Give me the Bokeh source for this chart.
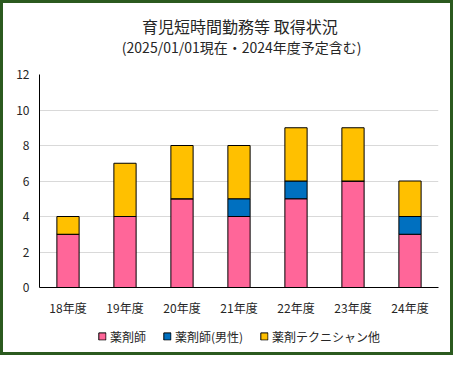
from bokeh.plotting import figure
from bokeh.models import ColumnDataSource, Label, Legend, FixedTicker
from bokeh.layouts import column
from bokeh.embed import file_html
from bokeh.resources import INLINE

years = ["18年度", "19年度", "20年度", "21年度", "22年度", "23年度", "24年度"]
pharmacist = [3, 4, 5, 4, 5, 6, 3]
pharmacist_male = [0, 0, 0, 1, 1, 0, 1]
technician = [1, 3, 3, 3, 3, 3, 2]
series = ["薬剤師", "薬剤師(男性)", "薬剤テクニシャン他"]
colors = ["#FF6699", "#0070C0", "#FFC000"]
y_ticks = [0, 2, 4, 6, 8, 10, 12]
title_text = "育児短時間勤務等 取得状況"
subtitle_text = "(2025/01/01現在・2024年度予定含む)"

FONT = "Noto Sans CJK JP"
TEXT_COLOR = "#262626"
W = 447

source = ColumnDataSource(data={
    "year": years,
    "薬剤師": pharmacist,
    "薬剤師(男性)": pharmacist_male,
    "薬剤テクニシャン他": technician,
})

# title strip
TH = 63
pt = figure(x_range=(0, W), y_range=(0, TH), width=W, height=TH,
            output_backend="svg", toolbar_location=None, title=None,
            x_axis_type=None, y_axis_type=None,
            min_border_left=0, min_border_right=0, min_border_top=0, min_border_bottom=0)
pt.xgrid.grid_line_color = None
pt.ygrid.grid_line_color = None
pt.outline_line_color = None
pt.add_layout(Label(x=W / 2 + 1, y=TH - 22, text=title_text, text_align="center",
                    text_baseline="middle", text_font=FONT, text_font_size="16px",
                    text_color=TEXT_COLOR))
pt.add_layout(Label(x=W / 2 + 3, y=TH - 43, text=subtitle_text, text_align="center",
                    text_baseline="middle", text_font=FONT, text_font_size="14px",
                    text_color=TEXT_COLOR))

# main chart
p = figure(x_range=years, y_range=(0, 12), width=W, height=253,
           output_backend="svg", toolbar_location=None, title=None,
           min_border_left=36, min_border_right=12, min_border_top=8, min_border_bottom=32)

renderers = p.vbar_stack(series, x="year", width=0.39, source=source,
                         fill_color=colors, line_color="black", line_width=1)

p.yaxis.ticker = FixedTicker(ticks=y_ticks)
p.yaxis.major_tick_out = 0
p.yaxis.major_tick_in = 0
p.yaxis.minor_tick_out = 0
p.yaxis.minor_tick_in = 0
p.yaxis.axis_line_color = "black"
p.yaxis.major_label_text_font = FONT
p.yaxis.major_label_text_font_size = "12px"
p.yaxis.major_label_text_color = TEXT_COLOR
p.yaxis.major_label_standoff = 10

p.xaxis.major_tick_out = 0
p.xaxis.major_tick_in = 0
p.xaxis.axis_line_color = "black"
p.xaxis.major_label_text_font = FONT
p.xaxis.major_label_text_font_size = "12px"
p.xaxis.major_label_text_color = TEXT_COLOR
p.xaxis.major_label_standoff = 11

p.xgrid.grid_line_color = None
p.ygrid.grid_line_color = "#D9D9D9"
p.outline_line_color = None
p.x_range.range_padding = 0.0

# legend strip (same series, hidden glyphs, only the legend is shown)
pl = figure(x_range=p.x_range, y_range=(0, 1), width=W, height=33,
            output_backend="svg", toolbar_location=None, title=None,
            x_axis_type=None, y_axis_type=None,
            min_border_left=0, min_border_right=0, min_border_top=0, min_border_bottom=0)
pl.xgrid.grid_line_color = None
pl.ygrid.grid_line_color = None
pl.outline_line_color = None
legend_renderers = pl.vbar_stack(series, x="year", width=0.39, source=source,
                                 fill_color=colors, line_color="black", line_width=1)
for r in legend_renderers:
    r.visible = False

legend = Legend(items=[(s, [r]) for s, r in zip(series, legend_renderers)],
                orientation="horizontal", location="center",
                label_text_font=FONT, label_text_font_size="12px", label_text_color=TEXT_COLOR,
                glyph_width=9, glyph_height=9, spacing=16, label_standoff=4,
                label_height=16, border_line_color=None, background_fill_alpha=0,
                padding=0, margin=0)
pl.add_layout(legend, "center")

root = column(pt, p, pl, spacing=0,
              styles={"border": "3px solid #2B5A1F", "background-color": "white"})

open("out.html", "w").write(file_html(root, INLINE))
